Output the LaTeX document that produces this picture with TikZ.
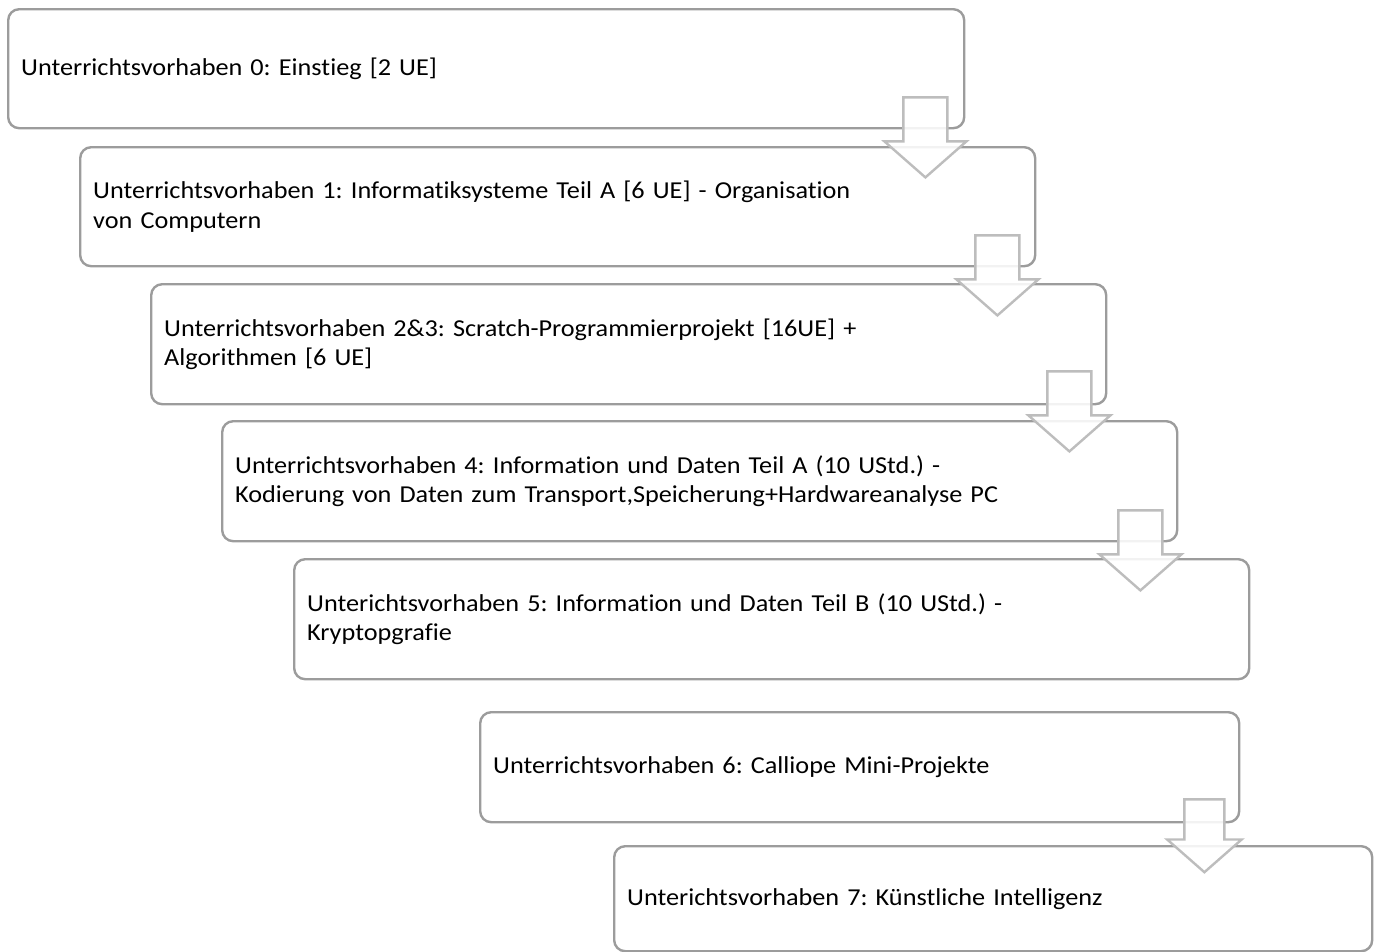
\documentclass[tikz,border=0pt]{standalone}
\usepackage{fontspec}
\setmainfont{Carlito}[FakeStretch=1.08, Ligatures=NoCommon]
\frenchspacing
\usetikzlibrary{calc}
\definecolor{boxline}{HTML}{9C9C9C}
\definecolor{arrline}{HTML}{BDBDBD}
\tikzset{
  box/.style={draw=boxline, line width=2.4pt, rounded corners=11pt, fill=white,
    anchor=north west, align=left, inner xsep=13pt, inner ysep=0pt,
    font=\fontsize{24.3}{29.6}\selectfont\frenchspacing, text=black},
  arrowstyle/.style={draw=arrline, line width=2.4pt, fill=white, fill opacity=0.88, line join=miter},
  downarrow/.pic={
    \path[arrowstyle] (-22,0) -- (22,0) -- (22,44) -- (41,44) -- (0,80) -- (-41,44) -- (-22,44) -- cycle;
  }
}
\begin{document}
\begin{tikzpicture}[x=1pt,y=-1pt]
\useasboundingbox (0,0) rectangle (1374,951);
\node[box, minimum height=119pt, text width=930pt] (b0) at (7,8) {Unterrichtsvorhaben 0: Einstieg [2 UE]};
\node[box, minimum height=119pt, text width=929pt] (b1) at (79,146) {Unterrichtsvorhaben 1: Informatiksysteme Teil A [6 UE] - Organisation\\von Computern};
\node[box, minimum height=120pt, text width=929pt] (b2) at (150,283) {Unterrichtsvorhaben 2\&3: Scratch-Programmierprojekt [16UE] +\\Algorithmen [6 UE]};
\node[box, minimum height=120pt, text width=929pt] (b3) at (221,420) {Unterrichtsvorhaben 4: Information und Daten Teil A (10 UStd.) -\\Kodierung von Daten zum Transport,Speicherung+Hardwareanalyse PC};
\node[box, minimum height=120pt, text width=929pt] (b4) at (293,558) {Unterichtsvorhaben 5: Information und Daten Teil B (10 UStd.) -\\Kryptopgrafie};
\node[box, minimum height=110pt, text width=733pt] (b5) at (479,711) {Unterrichtsvorhaben 6: Calliope Mini-Projekte};
\node[box, minimum height=105pt, text width=732pt] (b6) at (613,845) {Unterichtsvorhaben 7: Künstliche Intelligenz};
\pic at ($(b0.south east)+(-40,-32)$) {downarrow};
\pic at ($(b1.south east)+(-39,-32)$) {downarrow};
\pic at ($(b2.south east)+(-38,-34)$) {downarrow};
\pic at ($(b3.south east)+(-38,-32)$) {downarrow};
\pic[scale=0.91] at ($(b5.south east)+(-36,-24)$) {downarrow};
\end{tikzpicture}
\end{document}
